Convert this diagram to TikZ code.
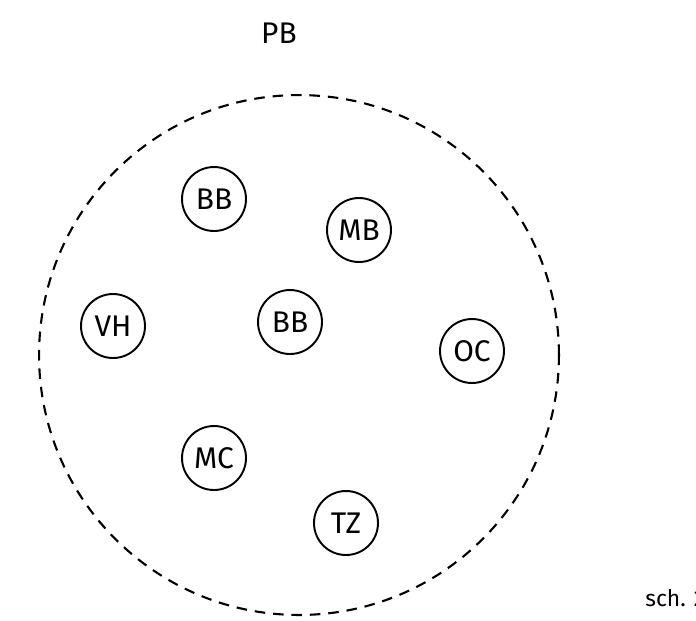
\documentclass[tikz,border=0pt]{standalone}
\usepackage{fontspec}
\setmainfont{Fira Sans}
\usepackage{tikz}
\tikzstyle{party}=[circle, draw=black, line width=1.1pt, minimum size=1.28cm, inner sep=0pt, font=\fontsize{17}{19}\selectfont]
\tikzstyle{bloc}=[circle, draw=black, dashed, line width=1.2pt, dash pattern=on 6pt off 4.5pt, minimum size=10.4cm, inner sep=0pt]

\begin{document}
\begin{tikzpicture}[x=0.02cm, y=-0.02cm]
\useasboundingbox (0,0) rectangle (696,620);
\node[bloc] (pb) at (299,355){};
\node[font=\fontsize{17}{19}\selectfont] (pblabel) at (279,33){PB};
\node[party] (bb1) at (214,199){BB};
\node[party] (mb) at (359,230){MB};
\node[party] (vh) at (113,326){VH};
\node[party] (bb2) at (290,322){BB};
\node[party] (oc) at (472,351){OC};
\node[party] (mc) at (214,458){MC};
\node[party] (tz) at (346,523){TZ};
\node[anchor=base west, inner sep=0pt, font=\fontsize{13}{15}\selectfont] (sch) at (645,606){sch. 2};
\end{tikzpicture}
\end{document}
